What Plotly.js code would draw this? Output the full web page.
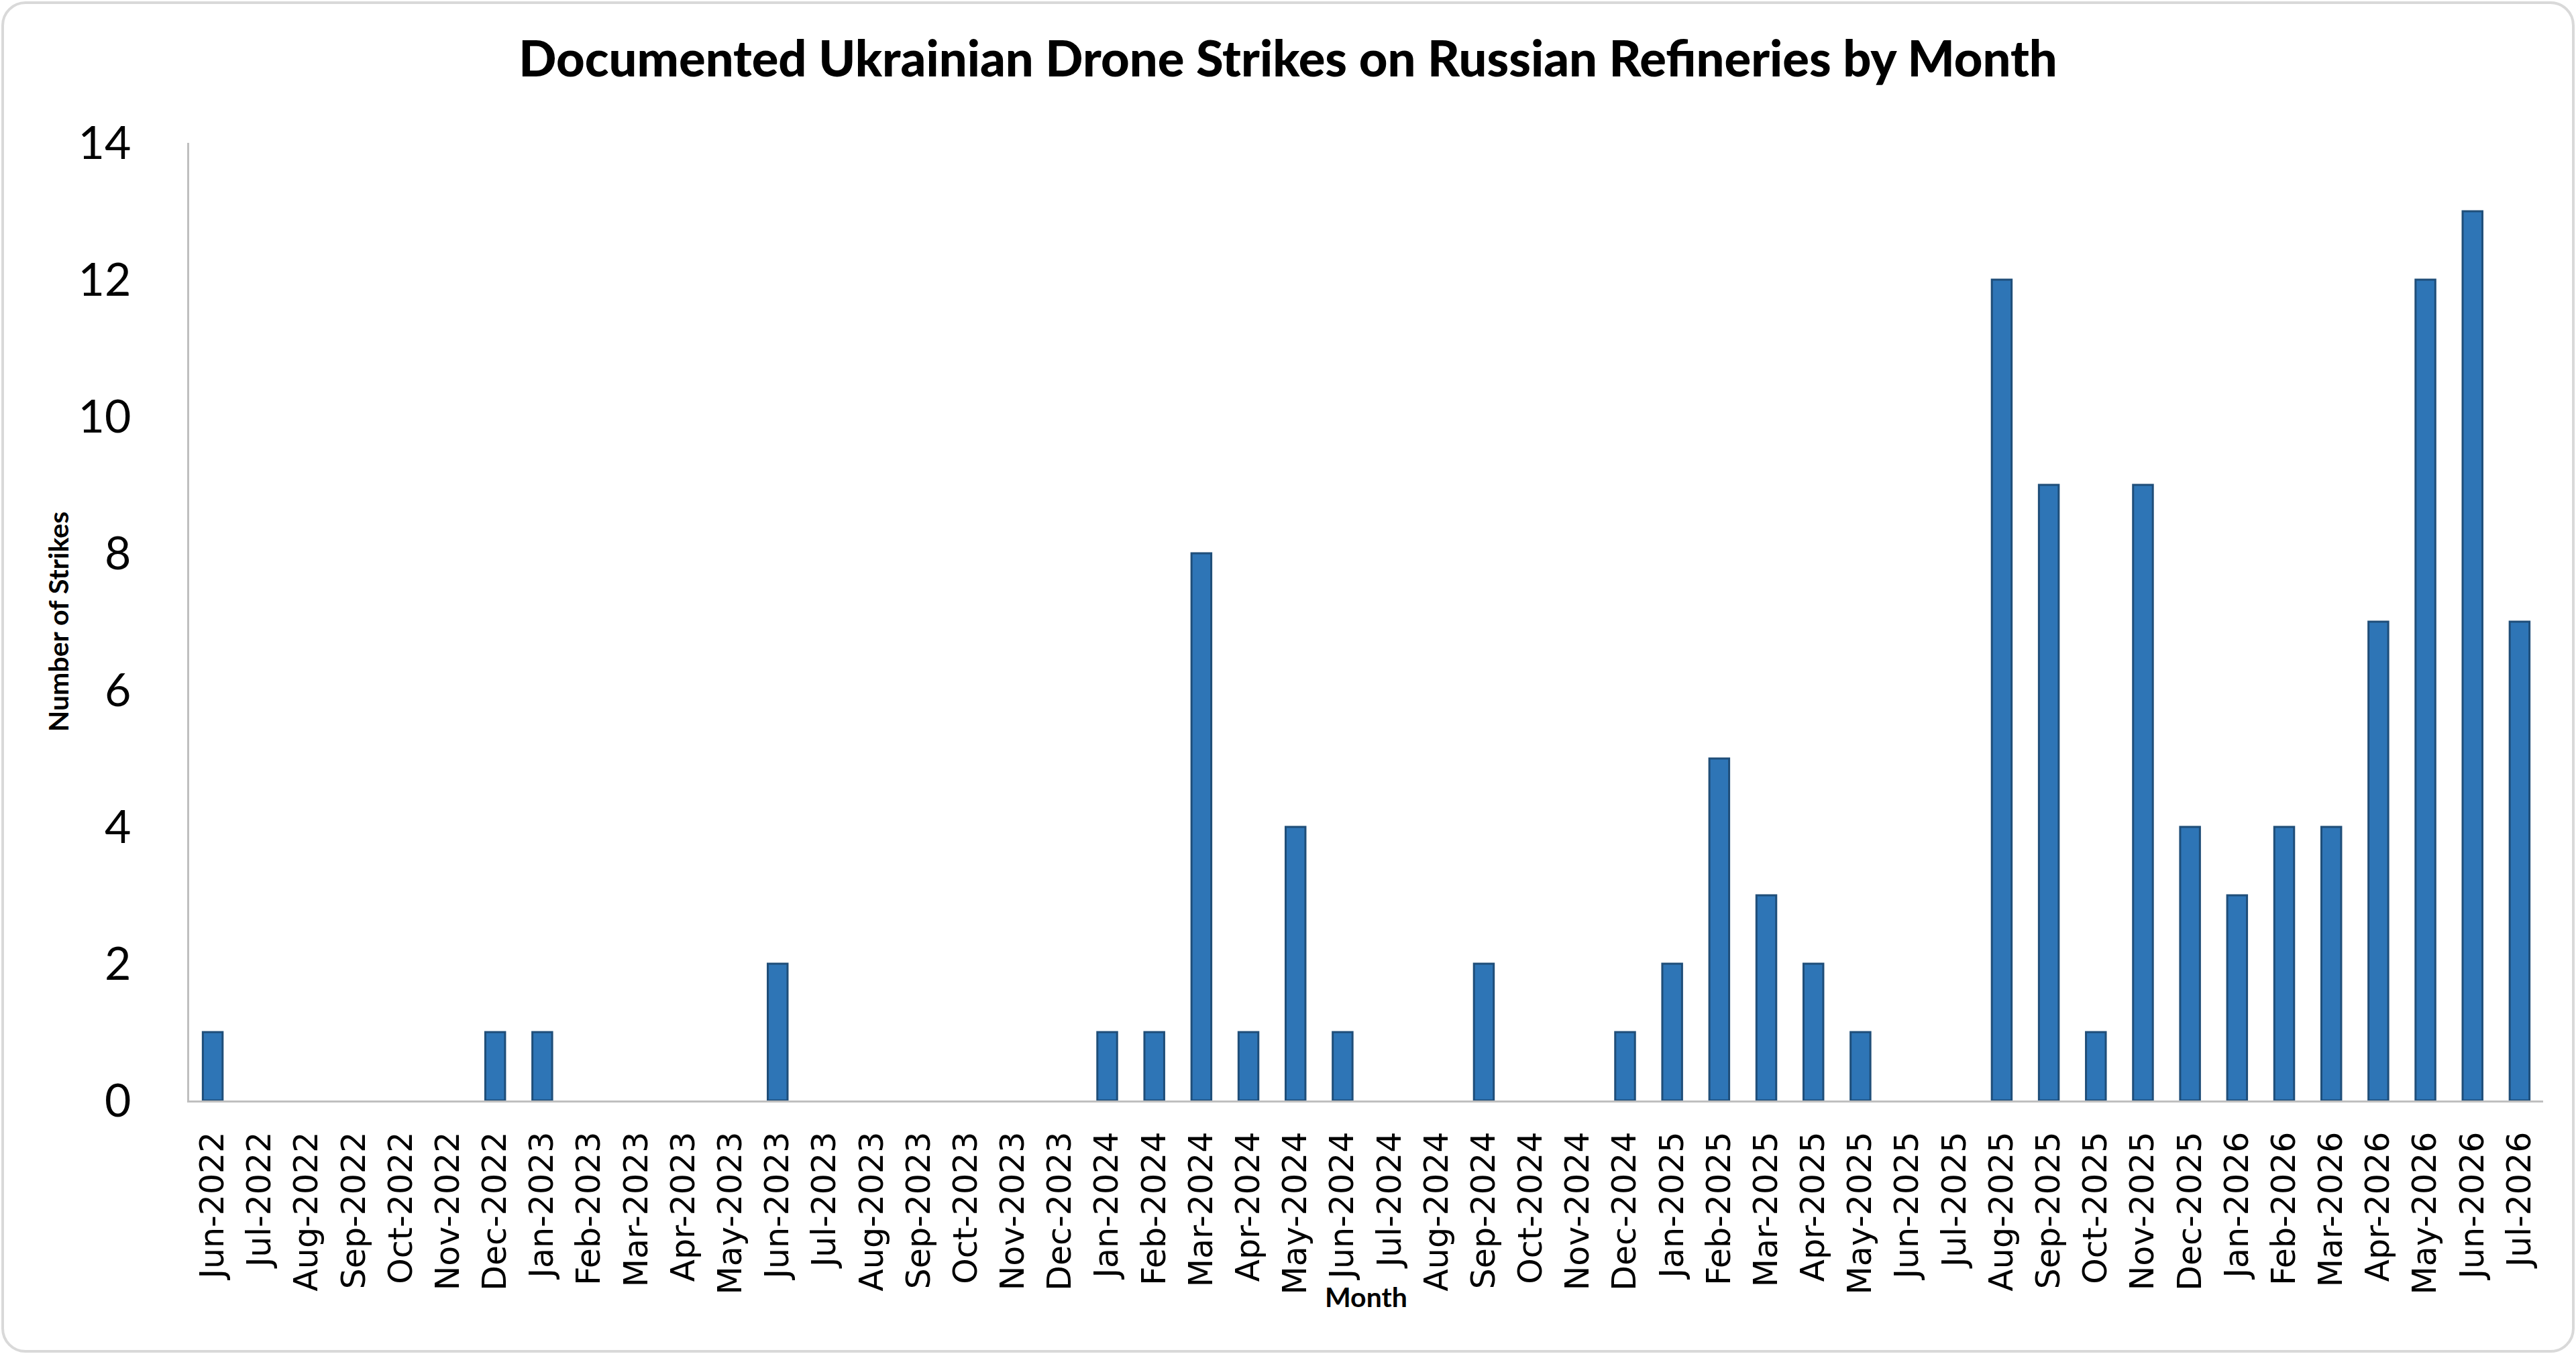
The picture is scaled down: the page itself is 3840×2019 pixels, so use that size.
<!DOCTYPE html>
<html>
<head>
<meta charset="utf-8">
<script src="https://cdn.plot.ly/plotly-3.0.1.min.js"></script>
<style>
  html, body { margin: 0; padding: 0; background: #ffffff; }
  #wrap { position: relative; width: 3840px; height: 2019px; overflow: hidden; }
  #chart { position: absolute; left: 0; top: 0; width: 3840px; height: 2019px; }
  #frame { position: absolute; left: 2px; top: 2px; width: 3836px; height: 2015px; box-sizing: border-box;
           border: 4px solid #d9d9d9; border-radius: 36px; pointer-events: none; }
</style>
</head>
<body>
<div id="wrap">
  <div id="chart"></div>
  <div id="frame"></div>
</div>
<script>
const months = [
  "Jun-2022","Jul-2022","Aug-2022","Sep-2022","Oct-2022","Nov-2022","Dec-2022",
  "Jan-2023","Feb-2023","Mar-2023","Apr-2023","May-2023","Jun-2023","Jul-2023","Aug-2023","Sep-2023","Oct-2023","Nov-2023","Dec-2023",
  "Jan-2024","Feb-2024","Mar-2024","Apr-2024","May-2024","Jun-2024","Jul-2024","Aug-2024","Sep-2024","Oct-2024","Nov-2024","Dec-2024",
  "Jan-2025","Feb-2025","Mar-2025","Apr-2025","May-2025","Jun-2025","Jul-2025","Aug-2025","Sep-2025","Oct-2025","Nov-2025","Dec-2025",
  "Jan-2026","Feb-2026","Mar-2026","Apr-2026","May-2026","Jun-2026","Jul-2026"
];
const strikes = [
  1,0,0,0,0,0,1,
  1,0,0,0,0,2,0,0,0,0,0,0,
  1,1,8,1,4,1,0,0,2,0,0,1,
  2,5,3,2,1,0,0,12,9,1,9,4,
  3,4,4,7,12,13,7
];
const yTicks = [0,2,4,6,8,10,12,14];

const trace = {
  type: 'bar',
  x: months,
  y: strikes.map(v => (v === 0 ? null : v)),
  marker: { color: '#2E75B6', line: { color: '#1F4E79', width: 3 } },
  hoverinfo: 'x+y'
};

const layout = {
  width: 3840, height: 2019,
  paper_bgcolor: 'rgba(0,0,0,0)', plot_bgcolor: 'rgba(0,0,0,0)',
  margin: { l: 282, r: 49, t: 213, b: 378 },
  bargap: 0.58,
  showlegend: false,
  title: {
    text: 'Documented Ukrainian Drone Strikes on Russian Refineries by Month',
    font: { family: 'Lato, "Open Sans", sans-serif', size: 74, color: '#000000', weight: 900 },
    xref: 'container', x: 0.5, xanchor: 'center',
    yref: 'container', y: 1 - 88/2019, yanchor: 'middle'
  },
  xaxis: {
    type: 'category',
    tickangle: -90,
    tickfont: { family: '"DejaVu Sans", sans-serif', size: 49, color: '#000000' },
    showgrid: false, zeroline: false,
    showline: true, linecolor: '#BFBFBF', linewidth: 3,
    ticks: '', ticklabelstandoff: 24
  },
  yaxis: {
    range: [0, 14],
    tickvals: yTicks,
    ticktext: yTicks.map(String),
    tickfont: { family: 'Lato, "Open Sans", sans-serif', size: 68, color: '#000000' },
    showgrid: false, zeroline: false,
    showline: true, linecolor: '#BFBFBF', linewidth: 3,
    ticks: '', ticklabelstandoff: 70,
    title: { text: 'Number of Strikes', font: { family: 'Lato, "Open Sans", sans-serif', size: 41, color: '#000000', weight: 'bold' }, standoff: 2 }
  },
  annotations: [{
    text: 'Month', showarrow: false,
    xref: 'paper', x: 0.5, xanchor: 'center',
    yref: 'paper', y: (1641 - 1933) / 1428, yanchor: 'middle',
    font: { family: 'Lato, "Open Sans", sans-serif', size: 41, color: '#000000', weight: 'bold' }
  }]
};

Plotly.newPlot('chart', [trace], layout, { displayModeBar: false, staticPlot: true });
</script>
</body>
</html>
